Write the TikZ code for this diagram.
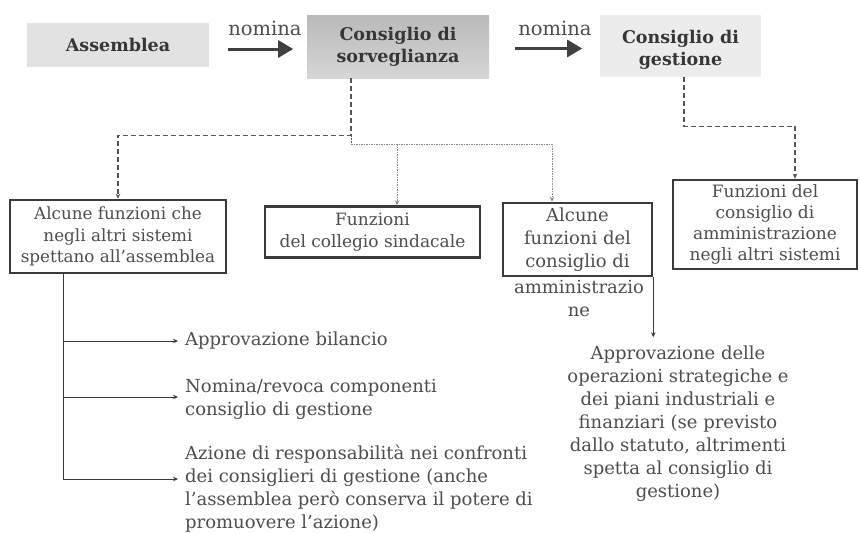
\documentclass[tikz,border=0pt]{standalone}
\usepackage{fontspec}
\setmainfont{DejaVu Serif}
\usetikzlibrary{arrows.meta,calc}

\definecolor{txt}{HTML}{4D4D4D}
\definecolor{hdtxt}{HTML}{363636}
\definecolor{frame}{HTML}{3B3B3B}
\definecolor{lightbox}{HTML}{E2E2E2}
\definecolor{gestbox}{HTML}{ECECEC}
\definecolor{sorvtop}{HTML}{B9B9B9}
\definecolor{sorvbot}{HTML}{D6D6D6}
\definecolor{link}{HTML}{555555}
\definecolor{arrowc}{HTML}{404040}

\tikzset{
  hdbox/.style={inner sep=0pt, align=center, text=hdtxt,
    font=\fontsize{17.5}{22}\selectfont\bfseries},
  fnbox/.style={draw=frame, line width=2.5pt, inner sep=0pt, align=center,
    text=txt, font=\fontsize{17}{21.5}\selectfont},
  plain/.style={inner sep=0pt, text=txt, font=\fontsize{18}{23}\selectfont},
  bigarrow/.style={arrowc, line width=3pt,
    -{Triangle[length=15pt,width=17pt]}},
  dashlink/.style={link, line width=1.1pt, dash pattern=on 5pt off 3pt,
    -{Stealth[length=5pt,width=4.5pt]}},
  dotlink/.style={link!70, line width=1pt, dash pattern=on 1.5pt off 1pt,
    -{Stealth[length=5pt,width=4.5pt]}},
  solidlink/.style={frame, line width=1pt, -{Stealth[length=5pt,width=4.5pt]}}
}

\begin{document}
\begin{tikzpicture}[x=1pt,y=-1pt]
\useasboundingbox (0,0) rectangle (860,533);

% top row
\node[hdbox, fill=lightbox, minimum width=182pt, minimum height=44pt]
  (ass) at (118,45) {Assemblea};
\node[hdbox, top color=sorvtop, bottom color=sorvbot,
  minimum width=182pt, minimum height=63pt]
  (sorv) at (398,46.5) {Consiglio di\\sorveglianza};
\node[fill=gestbox, inner sep=0pt, minimum width=161pt, minimum height=62pt]
  (gest) at (680.5,46) {};
\node[hdbox] (gesttxt) at (680.5,50) {Consiglio di\\gestione};

\node[plain, font=\fontsize{19.5}{22}\selectfont] (nom1) at (265,28) {nomina};
\node[plain, font=\fontsize{19.5}{22}\selectfont] (nom2) at (555,28) {nomina};
\draw[bigarrow] (ass.east) ++(19,4) coordinate (a1s) -- ++(65,0) coordinate (a1e);
\draw[bigarrow] (sorv.east) ++(26,2) coordinate (a2s) -- ++(67,0) coordinate (a2e);

% function boxes
\node[fnbox, minimum width=216pt, minimum height=73pt, font=\fontsize{16.8}{21.5}\selectfont]
  (A) at (118,236.5)
  {Alcune funzioni che\\negli altri sistemi\\spettano all’assemblea};
\node[fnbox, minimum width=215pt, minimum height=51pt] (B) at (372.5,232)
  {Funzioni\\del collegio sindacale};
\node[fnbox, minimum width=149pt, minimum height=73pt, font=\fontsize{18}{23}\selectfont]
  (C) at (577.5,239.5)
  {Alcune\\funzioni del\\consiglio di};
\node[plain, align=center] (Cx) at (579,298.5) {amministrazio\\ne};
\node[fnbox, minimum width=184pt, minimum height=89pt, font=\fontsize{17}{21}\selectfont]
  (D) at (765,224.5)
  {Funzioni del\\consiglio di\\amministrazione\\negli altri sistemi};

% dashed links from the two councils
\draw[dashlink] ([xshift=-47pt]sorv.south) -- ++(0,57) -| (A.north);
\draw[link, line width=1pt, dash pattern=on 2pt off 1pt]
  ([xshift=-47pt]sorv.south) ++(0,57) coordinate (j1) -- ++(0,9) coordinate (j2);
\draw[dotlink] (j2) -| (C.north -| 552,0);
\draw[dotlink] (j2 -| 397,0) -- (B.north -| 397,0);
\draw[dashlink] ([xshift=3.5pt]gest.south) -- ++(0,49) -| ([xshift=30pt]D.north);

% items under the first box
\node[plain, anchor=west] (i1) at (185,341) {Approvazione bilancio};
\node[plain, anchor=west, align=left] (i2) at (185,399.5)
  {Nomina/revoca componenti\\consiglio di gestione};
\node[plain, anchor=west, align=left] (i3) at (185,489)
  {Azione di responsabilità nei confronti\\dei consiglieri di gestione (anche\\l’assemblea però conserva il potere di\\promuovere l’azione)};
\coordinate (trunk) at ([xshift=-55pt]A.south);
\draw[frame, line width=1pt] (trunk) -- (trunk |- 0,479);
\draw[solidlink] (trunk |- 0,341) -- (178,341);
\draw[solidlink] (trunk |- 0,397) -- (178,397);
\draw[solidlink] (trunk |- 0,479) -- (178,479);

% item under the third box
\node[plain, align=center] (r1) at (678,424)
  {Approvazione delle\\operazioni strategiche e\\dei piani industriali e\\finanziari (se previsto\\dallo statuto, altrimenti\\spetta al consiglio di\\gestione)};
\draw[solidlink] (C.south east) -- ++(0,60);
\end{tikzpicture}
\end{document}
